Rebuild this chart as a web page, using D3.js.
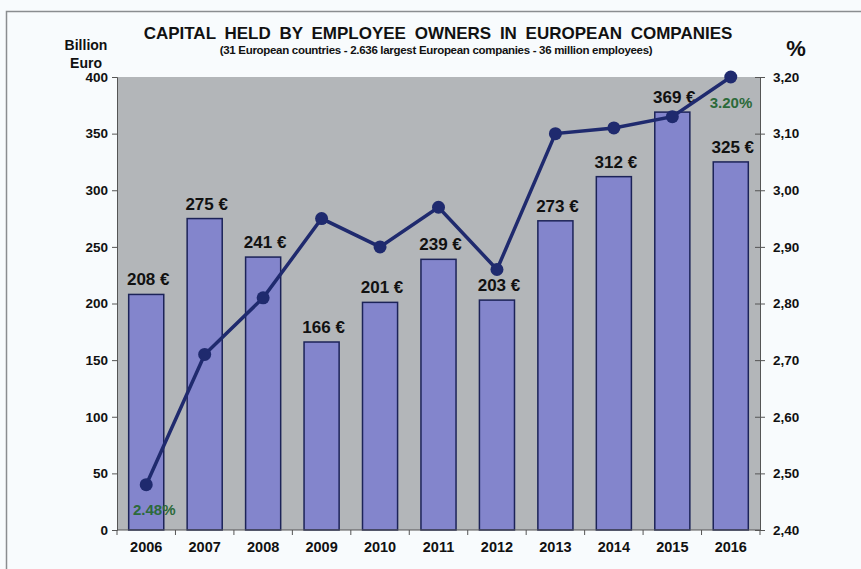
<!DOCTYPE html>
<html><head><meta charset="utf-8">
<script src="https://cdn.jsdelivr.net/npm/d3@7"></script>
<style>body{margin:0;background:#f8fbfd;}svg{display:block;font-family:"Liberation Sans",Arial,sans-serif;}</style>
</head><body>
<script>
const years = ["2006","2007","2008","2009","2010","2011","2012","2013","2014","2015","2016"];
const capital = [208,275,241,166,201,239,203,273,312,369,325];
const percent = [2.48,2.71,2.81,2.95,2.90,2.97,2.86,3.10,3.11,3.13,3.20];
const leftTicks = [0,50,100,150,200,250,300,350,400];
const rightTicks = [2.40,2.50,2.60,2.70,2.80,2.90,3.00,3.10,3.20];

const W=861,H=569;
const m={l:117,r:760,t:77,b:530};
const svg=d3.select("body").append("svg").attr("width",W).attr("height",H);
svg.append("rect").attr("width",W).attr("height",H).attr("fill","#f8fbfd");
svg.append("path").attr("d",`M6.5,${H}V11.5H${W}`).attr("fill","none").attr("stroke","#8a8d90").attr("stroke-width",1.5);

const x=d3.scaleBand().domain(years).range([m.l,m.r]).paddingInner(0.4).paddingOuter(0.2);
const y=d3.scaleLinear().domain([0,400]).range([m.b,m.t]);
const y2=d3.scaleLinear().domain([2.4,3.2]).range([m.b,m.t]);

svg.append("rect").attr("x",m.l).attr("y",m.t).attr("width",m.r-m.l).attr("height",m.b-m.t).attr("fill","#b3b6b9");

svg.append("g").selectAll("rect").data(capital).join("rect")
 .attr("x",(d,i)=>x(years[i])).attr("width",x.bandwidth())
 .attr("y",d=>y(d)).attr("height",d=>y(0)-y(d))
 .attr("fill","#8385cc").attr("stroke","#1c2358").attr("stroke-width",1.5);

svg.append("g").selectAll("text").data(capital).join("text")
 .attr("x",(d,i)=>x(years[i])+x.bandwidth()/2+2).attr("y",d=>y(d)-9)
 .attr("text-anchor","middle").attr("font-weight","bold").attr("font-size",17).attr("fill","#111")
 .text(d=>d+" €");

// axes
const gl=svg.append("g").attr("transform",`translate(${m.l},0)`).call(d3.axisLeft(y).tickValues(leftTicks).tickSize(5).tickPadding(4));
gl.selectAll("text").attr("font-size",13.5).attr("font-weight","bold").attr("fill","#111").attr("font-family","Liberation Sans, Arial");
gl.selectAll("line,path").attr("stroke","#555");

const gr=svg.append("g").attr("transform",`translate(${m.r},0)`).call(d3.axisRight(y2).tickValues(rightTicks).tickSize(5).tickPadding(8).tickFormat(d=>d3.format(".2f")(d).replace(".",",")));
gr.selectAll("text").attr("font-size",13.5).attr("font-weight","bold").attr("fill","#111").attr("font-family","Liberation Sans, Arial");
gr.selectAll("line").attr("x1",-5).attr("stroke","#555");
gr.select("path").attr("stroke","#555");

const gx=svg.append("g").attr("transform",`translate(0,${m.b})`).call(d3.axisBottom(x).tickSize(0).tickPadding(12));
gx.selectAll("text").attr("font-size",14.5).attr("font-weight","bold").attr("fill","#111").attr("font-family","Liberation Sans, Arial");
gx.select("path").attr("stroke","#555").attr("d",`M${m.l},0H${m.r}`);
svg.append("g").selectAll("line").data(d3.range(years.length+1)).join("line")
 .attr("x1",i=>m.l+i*(m.r-m.l)/years.length).attr("x2",i=>m.l+i*(m.r-m.l)/years.length)
 .attr("y1",m.b).attr("y2",m.b+5).attr("stroke","#555");

// line
const cx=i=>x(years[i])+x.bandwidth()/2;
svg.append("path").datum(percent).attr("fill","none").attr("stroke","#1f2a6e").attr("stroke-width",3.5)
 .attr("d",d3.line().x((d,i)=>cx(i)).y(d=>y2(d)));
svg.append("g").selectAll("circle").data(percent).join("circle")
 .attr("cx",(d,i)=>cx(i)).attr("cy",d=>y2(d)).attr("r",6.5).attr("fill","#1f2a6e");

svg.append("text").attr("x",cx(0)+8).attr("y",y2(percent[0])+30).attr("text-anchor","middle")
 .attr("font-size",15).attr("font-weight","bold").attr("fill","#2c6a3a").text("2.48%");
svg.append("text").attr("x",cx(10)-21).attr("y",y2(percent[10])+31)
 .attr("font-size",15).attr("font-weight","bold").attr("fill","#2c6a3a").text("3.20%");

// titles
svg.append("text").attr("x",438).attr("y",39).attr("text-anchor","middle").attr("font-weight","bold").attr("font-size",17)
 .attr("word-spacing",4).attr("fill","#111").text("CAPITAL HELD BY EMPLOYEE OWNERS IN EUROPEAN COMPANIES");
svg.append("text").attr("x",436).attr("y",54).attr("text-anchor","middle").attr("font-weight","bold").attr("font-size",11.5)
 .attr("letter-spacing",-0.3).attr("fill","#111").text("(31 European countries - 2.636 largest European companies - 36 million employees)");
svg.append("text").attr("x",86).attr("y",50).attr("text-anchor","middle").attr("font-weight","bold").attr("font-size",14).attr("fill","#111").text("Billion");
svg.append("text").attr("x",86).attr("y",68).attr("text-anchor","middle").attr("font-weight","bold").attr("font-size",14).attr("fill","#111").text("Euro");
svg.append("text").attr("x",796).attr("y",56).attr("text-anchor","middle").attr("font-weight","bold").attr("font-size",22).attr("fill","#111").text("%");
</script>
</body></html>
